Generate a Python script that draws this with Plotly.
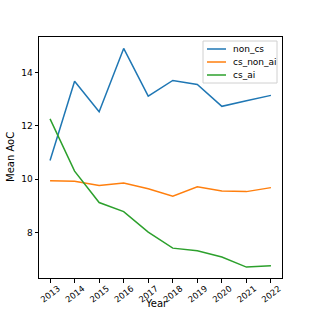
import plotly.graph_objects as go

years = [2013, 2014, 2015, 2016, 2017, 2018, 2019, 2020, 2021, 2022]
non_cs = [10.70, 13.67, 12.53, 14.90, 13.11, 13.70, 13.55, 12.73, 12.94, 13.14]
cs_non_ai = [9.94, 9.92, 9.76, 9.85, 9.64, 9.36, 9.71, 9.55, 9.53, 9.68]
cs_ai = [12.26, 10.30, 9.12, 8.78, 8.01, 7.41, 7.31, 7.08, 6.70, 6.75]

series = [("non_cs", non_cs, "#1f77b4"), ("cs_non_ai", cs_non_ai, "#ff7f0e"), ("cs_ai", cs_ai, "#2ca02c")]

W, H = 313, 313
ML, MR, MT, MB = 39, 31, 37, 35
PW, PH = W - ML - MR, H - MT - MB


def px(x):
    return (x - ML) / PW


def py(y):
    return (H - MB - y) / PH


fig = go.Figure()
for name, vals, col in series:
    fig.add_trace(go.Scatter(x=years, y=vals, mode="lines", name=name,
                             line=dict(color=col, width=1.5), showlegend=False))

axis_common = dict(showline=True, linecolor="black", linewidth=1, mirror=True,
                   ticks="outside", ticklen=3.5, tickwidth=1, tickcolor="black",
                   showgrid=False, zeroline=False, automargin=False)

# custom compact legend (matplotlib style)
shapes = [dict(type="rect", xref="paper", yref="paper", x0=px(203), x1=px(277),
               y0=py(83), y1=py(41), line=dict(color="#d0d0d0", width=1),
               fillcolor="rgba(255,255,255,0.8)", layer="above")]
annotations = []
rows = [49, 62, 75]
for (name, vals, col), ry in zip(series, rows):
    shapes.append(dict(type="line", xref="paper", yref="paper", x0=px(207), x1=px(226),
                       y0=py(ry), y1=py(ry), line=dict(color=col, width=1.5), layer="above"))
    annotations.append(dict(text=name, x=px(231), y=py(ry), xref="paper", yref="paper",
                            xanchor="left", yanchor="middle", showarrow=False,
                            font=dict(size=9)))

annotations += [
    dict(text="Year", x=px(156), y=py(303), xref="paper", yref="paper",
         xanchor="center", yanchor="middle", showarrow=False, font=dict(size=10)),
    dict(text="Mean AoC", x=px(10.5), y=0.5, xref="paper", yref="paper",
         xanchor="center", yanchor="middle",
         showarrow=False, textangle=-90, font=dict(size=10)),
]

fig.update_layout(
    width=W, height=H,
    margin=dict(l=ML, r=MR, t=MT, b=MB),
    paper_bgcolor="white", plot_bgcolor="white",
    font=dict(family="DejaVu Sans", color="black"),
    xaxis=dict(range=[2012.55, 2022.45], tickmode="array", tickvals=years,
               ticktext=[str(y) for y in years], tickangle=-38,
               tickfont=dict(size=8.5, color="black"),
               ticklabelshift=8, ticklabelstandoff=-2, **axis_common),
    yaxis=dict(range=[6.29, 15.33], tickvals=[8, 10, 12, 14],
               tickfont=dict(size=9, color="black"), **axis_common),
    showlegend=False,
    shapes=shapes,
    annotations=annotations,
)

fig.write_html("out.html", config={"displayModeBar": False},
               post_script="document.body.style.margin='0';document.body.style.overflow='hidden';")
